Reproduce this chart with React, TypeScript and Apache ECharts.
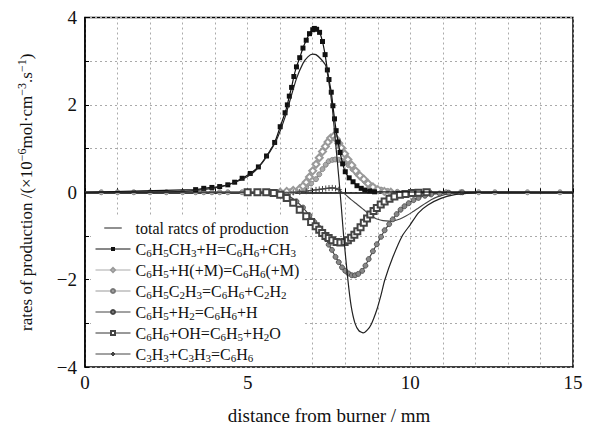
import React, { useEffect, useRef } from 'react';
import * as echarts from 'echarts';

// ---- data ----
const seriesNames = [
  'total ratcs of production',
  'C6H5CH3+H=C6H6+CH3',
  'C6H5+H(+M)=C6H6(+M)',
  'C6H5C2H3=C6H6+C2H2',
  'C6H5+H2=C6H6+H',
  'C6H6+OH=C6H5+H2O',
  'C3H3+C3H3=C6H6',
];

const totalX = [0, 1, 2, 2.5, 3, 3.5, 4, 4.5, 5, 5.3, 5.6, 5.9, 6.15, 6.3, 6.5, 6.7, 6.85, 7.0, 7.1, 7.25, 7.4, 7.5, 7.6, 7.7, 7.8, 7.88, 7.95, 8.08, 8.18, 8.3, 8.42, 8.55, 8.68, 8.8, 8.97, 9.1, 9.21, 9.46, 9.75, 10.0, 10.25, 10.54, 10.94, 11.33, 11.82, 12.3, 13, 14, 15];
const totalY = [0, 0, 0.005, 0.01, 0.02, 0.05, 0.1, 0.2, 0.36, 0.54, 0.83, 1.22, 1.72, 2.1, 2.6, 2.95, 3.1, 3.16, 3.15, 3.05, 2.9, 2.5, 1.95, 1.15, 0.35, -0.35, -1.0, -2.0, -2.6, -3.0, -3.17, -3.22, -3.15, -3.02, -2.69, -2.35, -2.02, -1.49, -1.0, -0.74, -0.47, -0.29, -0.14, -0.06, -0.02, 0, 0, 0, 0];

const tolX = [0, 3.4, 3.65, 3.9, 4.14, 4.39, 4.6, 4.83, 5.08, 5.33, 5.58, 5.83, 6.0, 6.15, 6.22, 6.28, 6.35, 6.42, 6.5, 6.6, 6.7, 6.8, 6.9, 7.0, 7.05, 7.12, 7.21, 7.3, 7.38, 7.45, 7.5, 7.57, 7.62, 7.67, 7.72, 7.78, 7.84, 7.92, 8.0, 8.12, 8.24, 8.36, 8.49, 8.6, 8.75, 8.9, 15];
const tolY = [0, 0.06, 0.09, 0.11, 0.13, 0.17, 0.23, 0.32, 0.43, 0.58, 0.83, 1.14, 1.5, 1.82, 2.0, 2.2, 2.4, 2.65, 2.87, 3.08, 3.3, 3.48, 3.63, 3.72, 3.75, 3.73, 3.66, 3.45, 3.15, 2.8, 2.58, 2.29, 1.98, 1.68, 1.41, 1.15, 0.91, 0.65, 0.47, 0.33, 0.24, 0.15, 0.09, 0.05, 0.03, 0.01, 0];

const phHX = [0, 6.0, 6.2, 6.4, 6.6, 6.7, 6.8, 6.9, 7.0, 7.1, 7.2, 7.3, 7.39, 7.47, 7.55, 7.64, 7.72, 7.8, 7.88, 7.98, 8.08, 8.2, 8.32, 8.45, 8.57, 8.7, 8.85, 9.0, 9.2, 9.4, 15];
const phHY = [0, 0, 0.02, 0.04, 0.08, 0.14, 0.23, 0.35, 0.49, 0.64, 0.79, 0.93, 1.05, 1.15, 1.24, 1.28, 1.22, 1.12, 1.02, 0.88, 0.75, 0.62, 0.49, 0.38, 0.3, 0.2, 0.12, 0.06, 0.02, 0, 0];

const styX = [0, 0.5, 1, 1.5, 2, 2.5, 3, 3.4, 3.65, 3.9, 4.14, 4.39, 4.83, 5.33, 5.57, 5.83, 6.3, 6.6, 6.8, 6.95, 7.1, 7.2, 7.3, 7.4, 7.49, 7.6, 7.69, 7.8, 7.9, 7.98, 8.1, 8.22, 8.35, 8.47, 8.6, 8.75, 8.9, 9.1, 9.3, 9.6, 10.1, 10.6, 11.1, 11.55, 12.1, 12.6, 13.6, 14.6, 15];
const styY = [0, 0, 0, 0, 0, 0, 0, 0, 0, 0, 0, 0, 0, 0, 0, 0, 0.02, 0.06, 0.11, 0.2, 0.3, 0.41, 0.53, 0.63, 0.71, 0.74, 0.75, 0.74, 0.72, 0.69, 0.62, 0.53, 0.43, 0.34, 0.25, 0.17, 0.11, 0.06, 0.03, 0.01, 0, 0, 0, 0, 0, 0, 0, 0, 0];

const phH2X = [0, 5.9, 6.2, 6.5, 6.7, 6.9, 7.05, 7.19, 7.3, 7.39, 7.49, 7.59, 7.7, 7.8, 7.9, 8.0, 8.1, 8.2, 8.3, 8.4, 8.52, 8.62, 8.72, 8.85, 8.97, 9.1, 9.21, 9.35, 9.46, 9.58, 9.7, 9.82, 9.95, 10.1, 10.25, 10.45, 10.64, 10.9, 11.18, 11.6, 15];
const phH2Y = [0, 0, -0.06, -0.21, -0.35, -0.53, -0.68, -0.81, -0.95, -1.05, -1.2, -1.32, -1.48, -1.6, -1.72, -1.8, -1.86, -1.9, -1.9, -1.87, -1.8, -1.68, -1.53, -1.35, -1.19, -1.02, -0.87, -0.73, -0.62, -0.5, -0.4, -0.32, -0.25, -0.18, -0.13, -0.08, -0.05, -0.03, -0.01, 0, 0];

const ohX = [0, 5.0, 5.3, 5.57, 5.8, 6.0, 6.2, 6.4, 6.6, 6.8, 6.95, 7.09, 7.2, 7.29, 7.39, 7.49, 7.6, 7.73, 7.85, 7.98, 8.08, 8.18, 8.28, 8.37, 8.47, 8.57, 8.67, 8.77, 8.87, 8.97, 9.09, 9.21, 9.36, 9.51, 9.68, 9.85, 10.05, 10.25, 10.5, 15];
const ohY = [0, 0, 0, 0, -0.02, -0.06, -0.13, -0.24, -0.4, -0.55, -0.68, -0.78, -0.86, -0.93, -1.0, -1.05, -1.1, -1.14, -1.15, -1.14, -1.1, -1.04, -0.97, -0.89, -0.8, -0.7, -0.6, -0.51, -0.43, -0.36, -0.28, -0.21, -0.15, -0.1, -0.06, -0.04, -0.02, -0.01, 0, 0];

const c3X = [0, 6.4, 6.6, 6.8, 6.95, 7.1, 7.2, 7.3, 7.4, 7.5, 7.6, 7.7, 7.8, 7.9, 8.0, 8.18, 8.37, 8.57, 8.72, 8.87, 9.0, 9.16, 9.35, 9.51, 9.68, 9.85, 10.05, 10.25, 10.45, 10.64, 10.85, 11.03, 11.3, 11.53, 11.8, 15];
const c3Y = [0, 0, 0.01, 0.025, 0.04, 0.055, 0.065, 0.075, 0.085, 0.095, 0.1, 0.09, 0.06, 0.0, -0.05, -0.17, -0.28, -0.4, -0.5, -0.57, -0.62, -0.65, -0.66, -0.65, -0.61, -0.55, -0.46, -0.36, -0.26, -0.17, -0.1, -0.06, -0.03, -0.01, 0, 0];
const c3MarkerLastX = 7.8;

const FONT = 'Liberation Serif';

function build(xs: number[], ys: number[], lastMarkerX = 14.9) {
  return xs.map((x, i) => {
    const v = [x, ys[i]];
    if (x === 0 || x === 15 || x > lastMarkerX) return { value: v, symbol: 'none' };
    return v;
  });
}

const plusPath = 'path://M5 0L5 10M0 5L10 5';
const lineIcon = 'path://M0 0L0.05 0L0.05 0.05L0 0.05Z M0 4.1L35 4.1L35 5.9L0 5.9Z M0 9.95L0.05 9.95L0.05 10L0 10Z';

export default function App() {
  const ref = useRef<HTMLDivElement>(null);
  useEffect(() => {
    if (!ref.current) return;
    const chart = echarts.init(ref.current, undefined, { renderer: 'svg' });
    const dotted = { show: true, lineStyle: { type: [2, 3], color: '#aaa', width: 1 } };
    const fmtNum = (v: number) => (v < 0 ? '\u2212' + String(-v) : String(v));
    chart.setOption({
      animation: false,
      backgroundColor: '#fff',
      grid: { left: 72, right: 23, top: 5, bottom: 65, show: true, borderColor: '#000', borderWidth: 1.5, backgroundColor: 'transparent' },
      xAxis: {
        type: 'value', min: 0, max: 15, interval: 1,
        name: 'distance from burner / mm', nameLocation: 'middle', nameGap: 39,
        nameTextStyle: { fontFamily: FONT, fontSize: 19, color: '#111' },
        axisLine: { lineStyle: { color: '#000', width: 1.5 } },
        axisTick: { inside: true, length: 4, lineStyle: { color: '#000' } },
        axisLabel: { formatter: (v: number) => (v % 5 === 0 ? String(v) : ''), fontFamily: FONT, fontSize: 19, color: '#111', margin: 6 },
        splitLine: dotted,
      },
      yAxis: {
        type: 'value', min: -4, max: 4, interval: 1,
        name: 'rates of production /(×10{p|\u22126}mol·cm{p|\u22123}.s{p|\u22121})', nameLocation: 'middle', nameGap: 48,
        nameTextStyle: { fontFamily: FONT, fontSize: 17, color: '#111', rich: { p: { fontFamily: FONT, fontSize: 12, color: '#111', padding: [0, 0, 9, 0] } } },
        axisLine: { lineStyle: { color: '#000', width: 1.5 } },
        axisTick: { inside: true, length: 4, lineStyle: { color: '#000' } },
        axisLabel: { formatter: (v: number) => (v % 2 === 0 ? fmtNum(v) : ''), fontFamily: FONT, fontSize: 19, color: '#111', margin: 8 },
        splitLine: dotted,
      },
      legend: {
        orient: 'vertical', left: 83, top: 208,
        itemWidth: 35, itemHeight: 5, itemGap: 3,
        backgroundColor: '#fff', padding: [3, 4, 3, 4],
        lineStyle: { width: 1 },
        data: seriesNames.map((n, i) => (i === 0 ? { name: n, icon: lineIcon, itemStyle: { color: '#222' } } : { name: n })),
        formatter: (n: string) => n.replace(/(\d+)/g, '{s|$1}'),
        textStyle: { fontFamily: FONT, fontSize: 16, color: '#111', lineHeight: 18, rich: { s: { fontFamily: FONT, fontSize: 11, color: '#111', padding: [7, 0, 0, 0] } } },
      },
      series: [
        { name: seriesNames[0], type: 'line', symbol: 'none', smooth: 0.2, data: build(totalX, totalY), lineStyle: { color: '#222', width: 1.2 }, itemStyle: { color: '#222' }, z: 6 },
        { name: seriesNames[1], type: 'line', symbol: 'rect', symbolSize: 5, smooth: 0.2, data: build(tolX, tolY), lineStyle: { color: '#111', width: 1.2 }, itemStyle: { color: '#111' }, z: 5 },
        { name: seriesNames[2], type: 'line', symbol: 'emptyDiamond', symbolSize: 7, smooth: 0.2, data: build(phHX, phHY), lineStyle: { color: '#aaa', width: 1.2 }, itemStyle: { color: '#999', borderWidth: 1 }, z: 3 },
        { name: seriesNames[3], type: 'line', symbol: 'circle', symbolSize: 5, smooth: 0.2, data: build(styX, styY), lineStyle: { color: '#999', width: 1.2 }, itemStyle: { color: '#aaa', borderColor: '#777', borderWidth: 0.8 }, z: 2 },
        { name: seriesNames[4], type: 'line', symbol: 'circle', symbolSize: 5, smooth: 0.2, data: build(phH2X, phH2Y), lineStyle: { color: '#444', width: 1.2 }, itemStyle: { color: '#888', borderColor: '#444', borderWidth: 0.8 }, z: 4 },
        { name: seriesNames[5], type: 'line', symbol: 'emptyRect', symbolSize: 6, smooth: 0.2, data: build(ohX, ohY), lineStyle: { color: '#333', width: 1.1 }, itemStyle: { color: '#444', borderWidth: 1 }, z: 4 },
        { name: seriesNames[6], type: 'line', symbol: plusPath, symbolSize: 6, smooth: 0.2, data: build(c3X, c3Y, c3MarkerLastX), lineStyle: { color: '#444', width: 1.1 }, itemStyle: { color: 'none', borderColor: '#444', borderWidth: 1 }, z: 4 },
      ],
    });
    return () => chart.dispose();
  }, []);
  return <div ref={ref} style={{ width: 588, height: 424 }} />;
}
